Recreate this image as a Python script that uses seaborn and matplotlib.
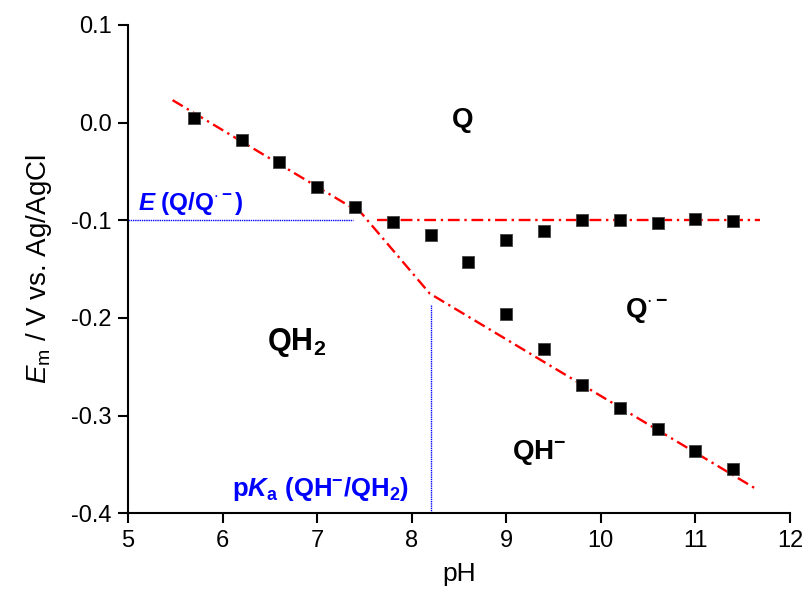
import numpy as np
import pandas as pd
import seaborn as sns
import matplotlib
matplotlib.use("Agg")
import matplotlib.pyplot as plt
from matplotlib.ticker import FormatStrFormatter

# measured midpoint potentials
ph = [5.7, 6.2, 6.6, 7.0, 7.4, 7.8, 8.2, 8.6, 9.0, 9.4, 9.8, 10.2, 10.6, 11.0, 11.4]
em = [0.005, -0.018, -0.040, -0.066, -0.086, -0.102, -0.115, -0.143, -0.120,
      -0.111, -0.100, -0.100, -0.103, -0.099, -0.101]
ph_low = [9.0, 9.4, 9.8, 10.2, 10.6, 11.0, 11.4]
em_low = [-0.196, -0.232, -0.269, -0.292, -0.314, -0.336, -0.355]

# fitted lines (red dash-dot)
fit_ph = [5.47, 7.47, 8.19, 11.64]
fit_em = [0.023, -0.093, -0.175, -0.375]
flat_ph = [7.63, 11.68]
flat_em = [-0.100, -0.100]

# blue guide lines
e_guide_ph = [5.0, 7.38]
e_guide_em = [-0.100, -0.100]
pka_ph = [8.2, 8.2]
pka_em = [-0.400, -0.187]

sns.set_style("ticks")
plt.rcParams["font.family"] = ["Liberation Sans", "DejaVu Sans"]
plt.rcParams["mathtext.fontset"] = "custom"
plt.rcParams["mathtext.rm"] = "Liberation Sans"
plt.rcParams["mathtext.it"] = "Liberation Sans:italic"
plt.rcParams["mathtext.bf"] = "Liberation Sans:bold"
plt.rcParams["mathtext.bfit"] = "Liberation Sans:italic:bold"
plt.rcParams["axes.unicode_minus"] = False
plt.rcParams["text.color"] = "black"
plt.rcParams["axes.labelcolor"] = "black"

fig, ax = plt.subplots(figsize=(8.06, 5.94), dpi=100)
fig.subplots_adjust(left=0.159, right=0.980, bottom=0.136, top=0.958)

dashdot = (0, (5, 2, 1, 2))
dots = (0, (1, 0.6))
sns.lineplot(x=fit_ph, y=fit_em, sort=False, estimator=None, color="red",
             lw=1.7, linestyle=dashdot, ax=ax)
sns.lineplot(x=flat_ph, y=flat_em, sort=False, estimator=None, color="red",
             lw=1.7, linestyle=dashdot, ax=ax)
sns.lineplot(x=e_guide_ph, y=e_guide_em, sort=False, estimator=None,
             color="blue", lw=1.0, linestyle=dots, ax=ax)
sns.lineplot(x=pka_ph, y=pka_em, sort=False, estimator=None,
             color="blue", lw=1.0, linestyle=dots, ax=ax)

pts = pd.DataFrame({"pH": ph + ph_low, "Em": em + em_low})
sns.scatterplot(data=pts, x="pH", y="Em", marker="s", s=80, color="black",
                edgecolor="#444444", linewidth=0.6, zorder=5, ax=ax)

ax.set_xlim(5, 12)
ax.set_ylim(-0.4, 0.1)
ax.set_xticks(np.arange(5, 13, 1))
ax.set_yticks([-0.4, -0.3, -0.2, -0.1, 0.0, 0.1])
ax.yaxis.set_major_formatter(FormatStrFormatter("%.1f"))
sns.despine(ax=ax)
for s in ["left", "bottom"]:
    ax.spines[s].set_linewidth(1.5)
    ax.spines[s].set_color("black")
ax.tick_params(direction="out", length=7, width=1.5, labelsize=17,
               colors="black", pad=5)

ax.set_xlabel("pH", fontsize=19, labelpad=7)
ax.set_ylabel(r"$E_\mathrm{m}$ / V vs. Ag/AgCl", fontsize=20, labelpad=12)

# region labels
ax.text(8.54, -0.005, "Q", fontsize=20, fontweight="bold", ha="center", va="baseline")
ax.text(6.47, -0.233, r"$\mathbf{QH_2}$", fontsize=22, ha="left", va="baseline")
ax.text(10.26, -0.1995, r"$\mathbf{Q^{\cdot -}}$", fontsize=20, ha="left", va="baseline")
ax.text(9.06, -0.344, r"$\mathbf{QH^{-}}$", fontsize=20, ha="left", va="baseline")

ax.text(5.106, -0.0897, r"$\mathbfit{E}$ $\mathbf{(Q/Q^{\cdot -})}$", fontsize=17.5,
        color="blue", ha="left", va="baseline")
ax.text(6.10, -0.382, r"$\mathbf{p}\mathbfit{K}_\mathbf{a}$ $\mathbf{(QH^{-}/QH_2)}$",
        fontsize=18.5, color="blue", ha="left", va="baseline")

fig.savefig("out.png", dpi=100)
